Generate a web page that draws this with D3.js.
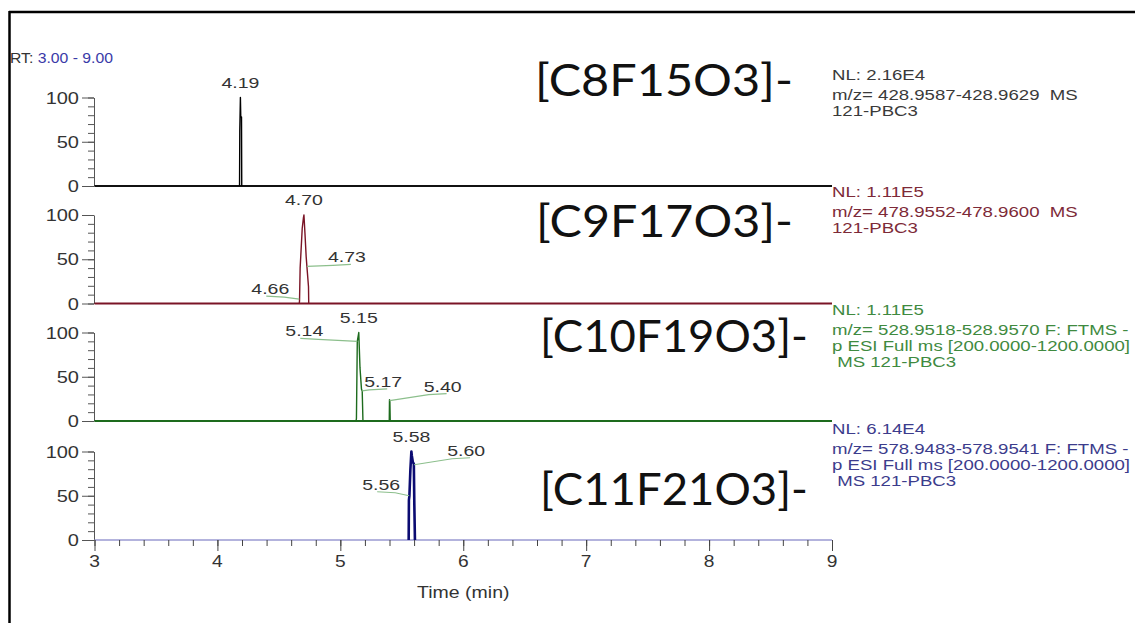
<!DOCTYPE html>
<html><head><meta charset="utf-8">
<script src="https://cdn.jsdelivr.net/npm/d3@7"></script>
<style>body{margin:0;background:#fff}svg{display:block}text{white-space:pre}</style>
</head><body>
<svg id="c" width="1135" height="623"></svg>
<script>
// ---------- data ----------
const xTicks = [3, 4, 5, 6, 7, 8, 9];
const yTicks = [0, 50, 100];
const formulas = ["[C8F15O3]-", "[C9F17O3]-", "[C10F19O3]-", "[C11F21O3]-"];
const nlLabels = ["NL: 2.16E4", "NL: 1.11E5", "NL: 1.11E5", "NL: 6.14E4"];
const infoLines = [
  ["m/z= 428.9587-428.9629  MS", "121-PBC3"],
  ["m/z= 478.9552-478.9600  MS", "121-PBC3"],
  ["m/z= 528.9518-528.9570 F: FTMS -", "p ESI Full ms [200.0000-1200.0000]", " MS 121-PBC3"],
  ["m/z= 578.9483-578.9541 F: FTMS -", "p ESI Full ms [200.0000-1200.0000]", " MS 121-PBC3"]
];
// trace time (min) / relative abundance (%)
const t1 = [3, 4.180, 4.182, 4.187, 4.190, 4.196, 4.198, 9];
const i1 = [0, 0, 62, 100, 78, 78, 0, 0];
const t2 = [3, 4.666, 4.668, 4.673, 4.690, 4.700, 4.704, 4.712, 4.722, 4.728, 4.741, 4.743, 9];
const i2 = [0, 0, 3, 40, 85, 97, 100, 80, 53, 42, 19, 0, 0];
const t3 = [3, 5.128, 5.131, 5.138, 5.150, 5.160, 5.172, 5.178, 5.184, 5.398, 5.400, 5.403, 5.406, 9];
const i3 = [0, 0, 3, 90, 100, 60, 36, 34, 0, 0, 24, 22, 0, 0];
const t4 = [3, 5.556, 5.558, 5.562, 5.570, 5.578, 5.582, 5.590, 5.598, 5.602, 5.607, 9];
const i4 = [0, 0, 45, 50, 80, 100, 95, 88, 86, 40, 0, 0];
// peak annotations: label, time, abundance
const ann1 = [["4.19", 4.187, 100]];
const ann2 = [["4.70", 4.704, 100], ["4.73", 4.728, 42], ["4.66", 4.666, 5]];
const ann3 = [["5.15", 5.150, 100], ["5.14", 5.138, 90], ["5.17", 5.178, 34], ["5.40", 5.401, 23]];
const ann4 = [["5.58", 5.578, 100], ["5.60", 5.600, 85], ["5.56", 5.560, 50]];

// ---------- layout / style ----------
const traces = [[t1, i1], [t2, i2], [t3, i3], [t4, i4]];
const anns = [ann1, ann2, ann3, ann4];
const zeros = [186, 303.5, 421, 540];
const panelH = 88.5;
const traceColors = ["#000000", "#7a1426", "#1d6b1d", "#0b0b72"];
const textColors = ["#3a3a3a", "#7d2a38", "#3f8a3f", "#3c3c8c"];
const baseColors = ["#111111", "#7a1426", "#1d6b1d", "#9a9ad2"];
const formulaY = [96, 237, 352, 505];
const formulaX = [535, 536, 540, 540];
const formulaW = [258, 257, 268, 268];
// annotation label offsets (dx, dy of text centre from peak point)
const annOff = [
  [[0, -16]],
  [[0, -16], [40, -10], [-29, -11]],
  [[0, -16], [-53, -11], [21, -10], [53, -15]],
  [[0, -16], [52, -15], [-28, -12]]
];
const K = 1.3; // horizontal stretch of glyphs

const svg = d3.select("#c");
const x = d3.scaleLinear().domain([3, 9]).range([94.5, 832]);

function stext(g, str, px, py, opts) {
  return g.append("text")
    .attr("transform", `translate(${px},${py}) scale(${opts.k || K},1)`)
    .attr("font-family", opts.family || "'Liberation Sans', Arial, sans-serif")
    .attr("font-size", opts.size || 15)
    .attr("fill", opts.fill || "#333")
    .attr("text-anchor", opts.anchor || "start")
    .text(str);
}

// frame
svg.append("line").attr("x1", 9).attr("x2", 1135).attr("y1", 12).attr("y2", 12).attr("stroke", "#000").attr("stroke-width", 2.5);
svg.append("line").attr("x1", 9.5).attr("x2", 9.5).attr("y1", 11).attr("y2", 623).attr("stroke", "#000").attr("stroke-width", 2.5);

// RT label
const rt = svg.append("text")
  .attr("transform", "translate(10,63) scale(1.05,1)")
  .attr("font-family", "'Liberation Sans', Arial, sans-serif").attr("font-size", 15);
rt.append("tspan").attr("fill", "#333").text("RT: ");
rt.append("tspan").attr("fill", "#3a3aa8").text("3.00 - 9.00");

traces.forEach((tr, p) => {
  const y = d3.scaleLinear().domain([0, 100]).range([zeros[p], zeros[p] - panelH]);
  const g = svg.append("g");

  // y axis
  const yMinor = g.append("g").attr("transform", "translate(94,0)")
    .call(d3.axisLeft(y).tickValues(d3.range(0, 101, 10)).tickSize(6).tickFormat(""));
  yMinor.select(".domain").remove();
  yMinor.selectAll("line").attr("stroke", "#555");
  const yMaj = g.append("g").attr("transform", "translate(94,0)")
    .call(d3.axisLeft(y).tickValues(yTicks).tickSize(12).tickSizeOuter(0).tickFormat(""));
  yMaj.selectAll("line").attr("stroke", "#555");
  yMaj.select(".domain").attr("stroke", "#555");
  yTicks.forEach(v => stext(g, String(v), 79, y(v) + 6, {size: 16, k: 1.25, fill: "#333", anchor: "end"}));

  // baseline
  g.append("line").attr("x1", x(3)).attr("x2", x(9)).attr("y1", y(0)).attr("y2", y(0))
    .attr("stroke", baseColors[p]).attr("stroke-width", p === 3 ? 1.5 : 2);

  // trace
  const pts = tr[0].map((t, i) => [t, tr[1][i]]);
  const line = d3.line().x(d => x(d[0])).y(d => y(d[1]));
  g.append("path").datum(pts.slice(1, -1)).attr("d", line)
    .attr("fill", "none").attr("stroke", traceColors[p])
    .attr("stroke-width", p === 3 ? 2.6 : 1.4).attr("stroke-linejoin", "round");

  // annotations
  anns[p].forEach((a, j) => {
    const px = x(a[1]), py = y(a[2]);
    const [dx, dy] = annOff[p][j];
    const cx = px + dx, cy = py + dy;
    if (j > 0) {
      const uy = cy + 9;
      const edge = dx > 0 ? cx - 14 : cx + 14;
      g.append("path")
        .attr("d", d3.line()([[cx + (dx > 0 ? 4 : -4), uy - 1], [edge, uy], [px, py]]))
        .attr("fill", "none").attr("stroke", "#8cbf8c").attr("stroke-width", 1.2);
    }
    stext(g, a[0], cx, cy + 6, {size: 15, fill: "#333", anchor: "middle"});
  });

  // formula label
  g.append("text")
    .attr("x", formulaX[p]).attr("y", formulaY[p])
    .attr("font-family", "Lato, 'Open Sans', sans-serif")
    .attr("font-size", 44).attr("fill", "#111")
    .attr("textLength", formulaW[p]).attr("lengthAdjust", "spacingAndGlyphs")
    .text(formulas[p]);

  // right info text
  const top = zeros[p] - panelH;
  stext(g, nlLabels[p], 832, top - 18, {size: 14, k: 1.33, fill: textColors[p]});
  infoLines[p].forEach((s, i) => {
    stext(svg, s, 832, top + 2 + i * 16, {size: 14, k: 1.33, fill: textColors[p]});
  });
});

// x axis (bottom panel)
const xa = svg.append("g").attr("transform", `translate(0,${zeros[3]})`);
const xMinor = xa.append("g").call(d3.axisBottom(x).tickValues(d3.range(3, 9.001, 0.2)).tickSize(6).tickFormat(""));
xMinor.select(".domain").remove();
xMinor.selectAll("line").attr("stroke", "#444");
const xMaj = xa.append("g").call(d3.axisBottom(x).tickValues(xTicks).tickSize(11).tickFormat(""));
xMaj.select(".domain").remove();
xMaj.selectAll("line").attr("stroke", "#444");
xTicks.forEach(v => stext(xa, String(v), x(v), 27, {size: 16, k: 1.2, fill: "#333", anchor: "middle"}));
stext(svg, "Time (min)", x(6), 598, {size: 16, k: 1.22, fill: "#333", anchor: "middle"});
</script>
</body></html>
